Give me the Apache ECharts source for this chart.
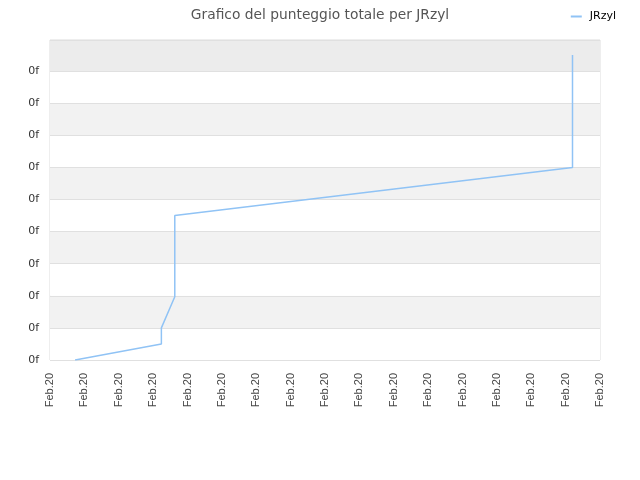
<!DOCTYPE html>
<html><head><meta charset="utf-8">
<script src="https://cdn.jsdelivr.net/npm/echarts@6/dist/echarts.min.js"></script>
<style>html,body{margin:0;padding:0;background:#fff}#c{width:640px;height:480px}</style>
</head><body><div id="c"></div>
<script>
const titleText = 'Grafico del punteggio totale per JRzyl';
const seriesName = 'JRzyl';
// x positions in tick units (17 ticks all labelled "Feb.20")
const xValues = [0.73, 3.24, 3.24, 3.63, 3.63, 15.2, 15.2];
const yValues = [0, 0.5, 1.0, 1.97, 4.5, 6.0, 9.5];
const xTickLabel = 'Feb.20';
const yTickLabel = '0f';

const chart = echarts.init(document.getElementById('c'), null, {renderer: 'canvas'});
chart.setOption({
  animation: false,
  title: {
    text: titleText, left: 'center', top: 3,
    textStyle: {fontFamily: 'DejaVu Sans', fontSize: 13.8, fontWeight: 'normal', color: '#555'}
  },
  legend: {
    right: 19, top: 6, itemWidth: 11, itemHeight: 2, itemGap: 5,
    data: [{name: seriesName, icon: 'rect'}],
    textStyle: {fontFamily: 'DejaVu Sans', fontSize: 11, color: '#000', padding: [0, 0, 0, 3]}
  },
  grid: {left: 50, right: 40, top: 40, bottom: 120, show: true, borderColor: '#dddddd', borderWidth: 1, backgroundColor: 'transparent'},
  xAxis: {
    type: 'value', min: 0, max: 16, interval: 1,
    axisLine: {show: false}, axisTick: {show: false},
    splitLine: {show: false},
    axisLabel: {
      rotate: 90, margin: 13, fontFamily: 'Liberation Sans', fontSize: 11, color: '#444',
      formatter: () => xTickLabel
    }
  },
  yAxis: {
    type: 'value', min: 0, max: 9.97, interval: 1,
    axisLine: {show: false}, axisTick: {show: false},
    splitLine: {show: true, lineStyle: {color: '#e0e0e0', width: 1}},
    splitArea: {show: true, areaStyle: {color: ['#ffffff','#f2f2f2','#ffffff','#f2f2f2','#ffffff','#f2f2f2','#ffffff','#f2f2f2','#ffffff','#ececec']}},
    axisLabel: {
      margin: 11, fontFamily: 'DejaVu Sans', fontSize: 11, color: '#333',
      formatter: v => (Math.abs(v - Math.round(v)) < 1e-6 ? yTickLabel : '')
    }
  },
  series: [{
    name: seriesName, type: 'line',
    data: xValues.map((x, i) => [x, yValues[i]]),
    showSymbol: false, symbol: 'none',
    lineStyle: {color: '#90c3f5', width: 1.5},
    itemStyle: {color: '#90c3f5'}
  }]
});
</script></body></html>
